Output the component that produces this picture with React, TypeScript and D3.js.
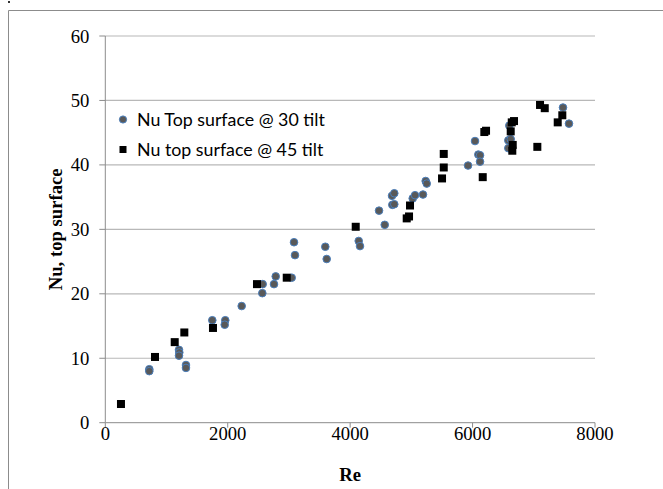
import React from 'react';
import * as d3 from 'd3';

const xTicks = [0, 2000, 4000, 6000, 8000];
const yTicks = [0, 10, 20, 30, 40, 50, 60];

const seriesNames = ['Nu Top surface @ 30 tilt', 'Nu top surface @ 45 tilt'];
const xTitle = 'Re';
const yTitle = 'Nu, top surface';

// Series 1: Nu top surface @ 30 tilt
const re30 = [719, 719, 1204, 1209, 1204, 1318, 1318, 1748, 1960, 1951, 2228, 2571, 2565, 2784, 2756, 3045, 3083, 3099, 3594, 3617, 4140, 4161, 4472, 4565, 4684, 4721, 4689, 4721, 5022, 5060, 5190, 5234, 5251, 5926, 6040, 6094, 6122, 6122, 6600, 6584, 6584, 6623, 7477, 7575];
const nu30 = [8.3, 8.0, 11.3, 10.9, 10.4, 8.95, 8.5, 15.9, 15.9, 15.2, 18.1, 21.5, 20.1, 22.7, 21.5, 22.5, 28.0, 26.0, 27.3, 25.4, 28.2, 27.4, 32.9, 30.7, 35.2, 35.6, 33.8, 33.9, 34.8, 35.3, 35.4, 37.5, 37.1, 39.9, 43.7, 41.6, 41.5, 40.5, 46.1, 43.8, 42.6, 44.0, 48.9, 46.4];

// Series 2: Nu top surface @ 45 tilt
const re45 = [256, 812, 1134, 1291, 1759, 2478, 2964, 4091, 4978, 4924, 4962, 5529, 5529, 5501, 6166, 6192, 6220, 6640, 6677, 6623, 6656, 6649, 7058, 7102, 7179, 7466, 7391];
const nu45 = [2.9, 10.2, 12.5, 14.0, 14.7, 21.5, 22.5, 30.4, 33.7, 31.7, 32.0, 41.7, 39.6, 37.9, 38.1, 45.1, 45.3, 46.6, 46.8, 45.2, 43.1, 42.2, 42.8, 49.3, 48.8, 47.7, 46.6];

export default function App() {
  const W = 663;
  const H = 489;
  const x = d3.scaleLinear().domain([0, 8000]).range([105.3, 595]);
  const y = d3.scaleLinear().domain([0, 60]).range([422.7, 36]);
  const x0 = x(0);
  const x1 = x(8000);
  const yb = y(0);

  const serif = "'Liberation Serif', 'Times New Roman', serif";
  const sans = "Lato, 'Open Sans', sans-serif";
  const axisColor = '#8c8c8c';
  const gridColor = '#b8b8b8';

  return (
    <svg width={W} height={H} style={{ position: 'absolute', left: 0, top: 0, background: '#fff' }}>
      <rect x={0} y={0} width={W} height={H} fill="#fff" />
      {/* outer frame */}
      <rect x={8} y={1} width={2} height={2} fill="#333" />
      <line x1={8.5} y1={10.5} x2={W} y2={10.5} stroke={axisColor} strokeWidth={1} />
      <line x1={8.5} y1={10.5} x2={8.5} y2={H} stroke={axisColor} strokeWidth={1} />

      {/* gridlines */}
      {yTicks.filter(t => t > 0).map(t => (
        <line key={'g' + t} x1={x0} x2={x1} y1={y(t)} y2={y(t)} stroke={gridColor} strokeWidth={1.2} />
      ))}
      {/* y ticks */}
      {yTicks.map(t => (
        <line key={'yt' + t} x1={x0 - 6} x2={x0} y1={y(t)} y2={y(t)} stroke={axisColor} strokeWidth={1} />
      ))}
      {/* x ticks */}
      {xTicks.map(t => (
        <line key={'xt' + t} x1={x(t)} x2={x(t)} y1={yb} y2={yb + 5} stroke={axisColor} strokeWidth={1} />
      ))}
      {/* axes */}
      <line x1={x0} x2={x0} y1={y(60)} y2={yb} stroke={axisColor} strokeWidth={1} />
      <line x1={x0} x2={x1} y1={yb} y2={yb} stroke={axisColor} strokeWidth={1} />

      {/* tick labels */}
      {yTicks.map(t => (
        <text key={'yl' + t} x={x0 - 16} y={y(t)} dy="0.35em" textAnchor="end" fontFamily={serif} fontSize={18.67} fill="#000">{t}</text>
      ))}
      {xTicks.map(t => (
        <text key={'xl' + t} x={x(t)} y={440} textAnchor="middle" fontFamily={serif} fontSize={18.67} fill="#000">{t}</text>
      ))}

      {/* axis titles */}
      <text x={(x0 + x1) / 2} y={481} textAnchor="middle" fontFamily={serif} fontWeight="bold" fontSize={18.67} fill="#000">{xTitle}</text>
      <text transform={`translate(62, ${(y(0) + y(60)) / 2}) rotate(-90)`} textAnchor="middle" fontFamily={serif} fontWeight="bold" fontSize={18.67} fill="#000">{yTitle}</text>

      {/* series 1 circles */}
      {re30.map((r, i) => (
        <circle key={'c' + i} cx={x(r)} cy={y(nu30[i])} r={3.8} fill="#595959" stroke="#4a7ebb" strokeWidth={1} />
      ))}
      {/* series 2 squares */}
      {re45.map((r, i) => (
        <rect key={'s' + i} x={x(r) - 4} y={y(nu45[i]) - 4} width={8} height={8} fill="#000" />
      ))}

      {/* legend */}
      <circle cx={123} cy={119.5} r={3.6} fill="#595959" stroke="#4a7ebb" strokeWidth={1} />
      <text x={137} y={119.5} dy="0.35em" fontFamily={sans} fontSize={17.8} fill="#000">{seriesNames[0]}</text>
      <rect x={119.5} y={146} width={7} height={7} fill="#000" />
      <text x={137} y={149.5} dy="0.35em" fontFamily={sans} fontSize={17.8} fill="#000">{seriesNames[1]}</text>
    </svg>
  );
}
